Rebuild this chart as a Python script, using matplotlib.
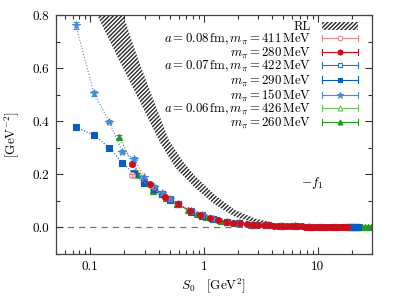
import numpy as np
import matplotlib
matplotlib.use('Agg')
import matplotlib.pyplot as plt
from matplotlib.lines import Line2D
from matplotlib.patches import Patch
from matplotlib.legend_handler import HandlerBase
from matplotlib.ticker import LogLocator, MultipleLocator, NullFormatter, FormatStrFormatter

plt.rcParams['font.family'] = 'serif'
plt.rcParams['font.serif'] = ['cmr10']
plt.rcParams['mathtext.fontset'] = 'cm'
plt.rcParams['axes.formatter.use_mathtext'] = True

## RL band (lower / upper edge)
band_s0_lo = [0.115, 0.176, 0.269, 0.41, 0.56, 0.83, 1.25, 1.87, 2.8, 4.2]
band_lo = [0.80, 0.637, 0.48, 0.32, 0.225, 0.15, 0.086, 0.04, 0.017, 0.006]
band_s0_hi = [0.115, 0.195, 0.262, 0.36, 0.49, 0.65, 0.83, 1.25, 1.87, 2.8, 4.2]
band_hi = [1.02, 0.80, 0.637, 0.48, 0.33, 0.25, 0.195, 0.122, 0.066, 0.034, 0.016]

## a = 0.08 fm
s0_a08 = [0.232, 0.334, 0.454, 0.593, 0.751, 0.927, 1.122, 1.335, 1.567, 1.817,
          2.087, 2.374, 2.680, 3.004, 3.347, 3.709, 4.089, 4.489, 4.906, 5.341,
          5.797, 6.270, 6.760, 7.268, 7.800, 8.346, 8.910, 9.498, 10.10, 10.72,
          11.36, 12.02, 12.70, 13.39, 14.11, 14.84, 15.59, 16.36, 17.15, 17.95]
f1_411 = [0.196, 0.158, 0.113, 0.087, 0.061, 0.046, 0.035, 0.027, 0.022, 0.018,
          0.015, 0.012, 0.011, 0.0095, 0.0085, 0.0075, 0.0068, 0.006, 0.0055, 0.005,
          0.0046, 0.0042, 0.0039, 0.0036, 0.0033, 0.0031, 0.0029, 0.0027, 0.0025, 0.0024,
          0.0022, 0.0021, 0.002, 0.0019, 0.0018, 0.0017, 0.0016, 0.0015, 0.0014, 0.0013]
f1_280 = [0.239, 0.162, 0.115, 0.088, 0.062, 0.046, 0.035, 0.027, 0.022, 0.018,
          0.015, 0.012, 0.011, 0.0095, 0.0085, 0.0075, 0.0068, 0.006, 0.0055, 0.005,
          0.0046, 0.0042, 0.0039, 0.0036, 0.0033, 0.0031, 0.0029, 0.0027, 0.0025, 0.0024,
          0.0022, 0.0021, 0.002, 0.0019, 0.0018, 0.0017, 0.0016, 0.0015, 0.0014, 0.0013]
err_411 = [0.006, 0.004, 0.003]
err_280 = [0.006, 0.004, 0.003]

## a = 0.07 fm
s0_a07 = [0.0748, 0.1077, 0.1466, 0.1915, 0.2424, 0.2992, 0.362, 0.431, 0.5057, 0.5865,
          0.766, 0.969, 1.197, 1.583, 2.023, 2.693, 3.665, 4.787, 6.331, 8.405,
          10.77, 13.84, 17.74, 18.67, 19.63, 20.61, 21.62, 22.65]
f1_422 = [0.205, 0.172, 0.147, 0.127, 0.106, 0.090,
          0.061, 0.045, 0.033, 0.022, 0.0158, 0.011, 0.008, 0.0058, 0.0042, 0.0031, 0.0024, 0.0018,
          0.0014, 0.0013, 0.0012, 0.0012, 0.0011, 0.001]
f1_290 = [0.378, 0.348, 0.301, 0.243, 0.201, 0.168, 0.145, 0.126, 0.105, 0.089,
          0.060, 0.044, 0.032, 0.022, 0.0155, 0.011, 0.0078, 0.0057, 0.0041, 0.003,
          0.0023, 0.0018, 0.0014, 0.0013, 0.0012, 0.0012, 0.0011, 0.001]
f1_150 = [0.761, 0.506, 0.399, 0.285, 0.259, 0.190, 0.153, 0.128, 0.108, 0.090,
          0.061, 0.045, 0.033, 0.022, 0.016, 0.011, 0.008, 0.0058, 0.0042, 0.0031]
err_422 = [0.004, 0.004, 0.003]
err_290 = [0.006, 0.006, 0.005, 0.005, 0.004, 0.004]
err_150 = [0.012, 0.009, 0.007, 0.006, 0.006, 0.005, 0.005]

## a = 0.06 fm
s0_a06 = [0.1806, 0.260, 0.354, 0.462, 0.585, 0.7225, 0.874, 1.040, 1.416, 1.850,
          2.608, 3.497, 4.884, 6.503, 8.851, 11.56, 15.29, 19.54, 21.07, 22.66,
          24.30, 26.01, 27.77, 29.60]
f1_426 = [0.196, 0.140, 0.113, 0.088, 0.065, 0.049, 0.038, 0.025, 0.018,
          0.011, 0.008, 0.0057, 0.0043, 0.003, 0.0023, 0.0017, 0.0013, 0.0012, 0.0011,
          0.001, 0.0009, 0.0009, 0.0008]
f1_260 = [0.341, 0.201, 0.136, 0.112, 0.087, 0.064, 0.049, 0.038, 0.025, 0.018,
          0.011, 0.008, 0.0057, 0.0043, 0.003, 0.0023, 0.0017, 0.0013, 0.0012, 0.0011,
          0.001, 0.0009, 0.0009, 0.0008]
err_426 = [0.005, 0.004, 0.003]
err_260 = [0.009, 0.005, 0.004]

labels = ['RL',
          r'$a=0.08\,\mathrm{fm}, m_\pi=411\,\mathrm{MeV}$',
          r'$m_\pi=280\,\mathrm{MeV}$',
          r'$a=0.07\,\mathrm{fm}, m_\pi=422\,\mathrm{MeV}$',
          r'$m_\pi=290\,\mathrm{MeV}$',
          r'$m_\pi=150\,\mathrm{MeV}$',
          r'$a=0.06\,\mathrm{fm}, m_\pi=426\,\mathrm{MeV}$',
          r'$m_\pi=260\,\mathrm{MeV}$']

# (x, y, err, color, marker, filled, size, zorder)
series = [
    (s0_a08, f1_411, err_411, '#e58a8a', 'o', False, 4.0, 4),
    (s0_a08, f1_280, err_280, '#c8101a', 'o', True, 4.2, 4.5),
    (s0_a07[4:], f1_422, err_422, '#2f74c4', 's', False, 3.8, 2.5),
    (s0_a07, f1_290, err_290, '#0b5cc0', 's', True, 3.8, 3),
    (s0_a07[:len(f1_150)], f1_150, err_150, '#4a8ad6', '*', True, 5.5, 3.5),
    (s0_a06[1:], f1_426, err_426, '#6cc05a', '^', False, 4.2, 2),
    (s0_a06, f1_260, err_260, '#259a1c', '^', True, 4.2, 2.2),
]


class KeyHandler(HandlerBase):
    # gnuplot-like key sample: line with end caps and a marker in the middle
    def create_artists(self, legend, orig, xd, yd, w, h, fontsize, trans):
        c = orig.get_color()
        x0, x1 = -xd, -xd + w
        ym = -yd + h / 2
        cap = h * 0.38
        arts = [Line2D([x0, x1], [ym, ym], color=c, lw=0.8),
                Line2D([x0, x0], [ym - cap, ym + cap], color=c, lw=0.8),
                Line2D([x1, x1], [ym - cap, ym + cap], color=c, lw=0.8),
                Line2D([(x0 + x1) / 2], [ym], marker=orig.get_marker(),
                       mfc=orig.get_markerfacecolor(), mec=c, ms=orig.get_markersize() * 0.85,
                       mew=0.8, ls='none')]
        for a in arts:
            a.set_transform(trans)
        return arts


fig = plt.figure(figsize=(3.93, 2.96), dpi=100)
ax = fig.add_axes([0.1425, 0.142, 0.804, 0.807])

# RL band
grid = np.geomspace(0.115, 4.2, 300)
lo = np.interp(np.log(grid), np.log(band_s0_lo), band_lo)
hi = np.interp(np.log(grid), np.log(band_s0_hi), band_hi)
ax.fill_between(grid, lo, hi, facecolor='white', edgecolor='#2a2a2a',
                hatch='////////', linewidth=0, zorder=1)

ax.axhline(0.0, color='#777777', lw=0.9, ls=(0, (5, 4)), zorder=0.5)

handles = [Patch(facecolor='white', edgecolor='#2a2a2a', hatch='////////', linewidth=0)]
for x, y, err, col, mk, filled, ms, z in series:
    mfc = col if filled else 'white'
    ax.plot(x, y, ls=':', lw=0.8, color=col, marker=mk, mfc=mfc, mec=col,
            ms=ms, mew=0.8, zorder=z)
    n = len(err)
    ax.errorbar(x[:n], y[:n], yerr=err, fmt='none', ecolor=col, elinewidth=0.8,
                capsize=2.2, capthick=0.8, zorder=z)
    handles.append(Line2D([], [], color=col, marker=mk, mfc=mfc, ms=ms))

ax.set_xscale('log')
ax.set_xlim(0.05, 30)
ax.set_ylim(-0.1, 0.8)
ax.set_xticks([0.1, 1, 10])
ax.set_xticklabels(['0.1', '1', '10'])
ax.xaxis.set_minor_locator(LogLocator(base=10, subs=np.arange(2, 10), numticks=20))
ax.xaxis.set_minor_formatter(NullFormatter())
ax.set_yticks([0.0, 0.2, 0.4, 0.6, 0.8])
ax.yaxis.set_major_formatter(FormatStrFormatter('%.1f'))
ax.yaxis.set_minor_locator(MultipleLocator(0.1))
ax.tick_params(which='both', direction='in', top=True, right=True, labelsize=9.5,
               width=0.8, colors='#333333', labelcolor='black')
ax.tick_params(which='major', length=5, pad=5)
ax.tick_params(which='minor', length=2.8)
for sp in ax.spines.values():
    sp.set_linewidth(0.9)
    sp.set_color('#444444')

ax.set_xlabel(r'$S_0\quad[\mathrm{GeV}^2]$', fontsize=9.5, labelpad=2)
ax.set_ylabel(r'$[\mathrm{GeV}^{-2}]$', fontsize=9.5, labelpad=8)
ax.text(0.81, 0.297, r'$-f_1$', transform=ax.transAxes, fontsize=9.5,
        ha='center', va='center')

leg = ax.legend(handles, labels, loc='upper right', bbox_to_anchor=(0.956, 0.975),
                frameon=False, markerfirst=False, fontsize=9.2, handlelength=2.8,
                handleheight=0.6, handletextpad=0.9, labelspacing=-0.13,
                borderpad=0, borderaxespad=0,
                handler_map={Line2D: KeyHandler()})

fig.savefig('out.png', dpi=100)
